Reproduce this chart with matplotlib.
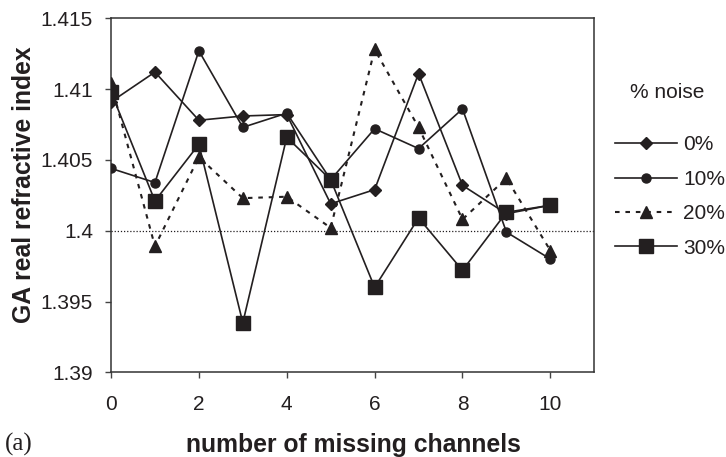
import matplotlib
matplotlib.use("Agg")
import matplotlib.pyplot as plt

plt.rcParams['font.family'] = ['Liberation Sans', 'DejaVu Sans']

missing_channels = [0, 1, 2, 3, 4, 5, 6, 7, 8, 9, 10]
noise_0 = [1.4091, 1.4112, 1.4078, 1.4081, 1.4082, 1.4019, 1.4029, 1.4111, 1.4032, 1.4012, 1.4018]
noise_10 = [1.4044, 1.4034, 1.4127, 1.4073, 1.4083, 1.4036, 1.4072, 1.4058, 1.4086, 1.3999, 1.3980]
noise_20 = [1.4104, 1.3989, 1.4052, 1.4023, 1.4024, 1.4002, 1.4128, 1.4073, 1.4008, 1.4037, 1.3986]
noise_30 = [1.4098, 1.4021, 1.4061, 1.3935, 1.4066, 1.4036, 1.3960, 1.4009, 1.3972, 1.4013, 1.4018]
series_labels = ['0%', '10%', '20%', '30%']
x_ticks = [0, 2, 4, 6, 8, 10]
y_ticks = [1.39, 1.395, 1.4, 1.405, 1.41, 1.415]
y_tick_labels = ['1.39', '1.395', '1.4', '1.405', '1.41', '1.415']
reference_value = 1.4

ink = '#231f20'

fig = plt.figure(figsize=(7.26, 4.57), dpi=100)
ax = fig.add_axes([0.1529, 0.1853, 0.8186 - 0.1529, 0.96 - 0.1853])

ax.axhline(reference_value, color=ink, lw=0.9, ls=(0, (1, 1.5)), zorder=1)

l0, = ax.plot(missing_channels, noise_0, color=ink, lw=1.2, marker='D', ms=6.5,
              mfc=ink, mec=ink, label=series_labels[0], zorder=3)
l1, = ax.plot(missing_channels, noise_10, color=ink, lw=1.2, marker='o', ms=6.5,
              mfc=ink, mec=ink, label=series_labels[1], zorder=3)
l2, = ax.plot(missing_channels, noise_20, color=ink, lw=1.5, ls=(0, (2.2, 2.8)), marker='^', ms=8,
              mfc=ink, mec=ink, label=series_labels[2], zorder=3)
l3, = ax.plot(missing_channels, noise_30, color=ink, lw=1.2, marker='s', ms=10.5,
              mfc=ink, mec=ink, label=series_labels[3], zorder=4)

ax.set_xlim(0, 11)
ax.set_ylim(1.39, 1.415)
ax.set_xticks(x_ticks)
ax.set_xticklabels([str(t) for t in x_ticks])
ax.set_yticks(y_ticks)
ax.set_yticklabels(y_tick_labels)
ax.tick_params(axis='both', labelsize=15, direction='out', length=4, width=1,
               color='#444444', labelcolor=ink)
ax.tick_params(axis='x', pad=12)
ax.tick_params(axis='y', pad=9)
for sp in ax.spines.values():
    sp.set_color('#333333')
    sp.set_linewidth(1.1)

fig.text(24 / 726, 1 - 185 / 457, 'GA real refractive index', fontsize=17.8, fontweight='bold',
         color=ink, rotation=90, ha='center', va='center')
fig.text(353 / 726, 5 / 457, 'number of missing channels', fontsize=17.8, fontweight='bold',
         color=ink, ha='center', va='baseline')
fig.text(5 / 726, 6 / 457, '(a)', fontsize=18, family=['Liberation Serif'], color=ink,
         ha='left', va='baseline')

fig.text(667 / 726, 1 - 93 / 457, '% noise', fontsize=15, color=ink, ha='center', va='center')
leg = fig.legend(handles=[l0, l1, l2, l3], labels=series_labels,
                 loc='center left', bbox_to_anchor=(0.835, 1 - 196.5 / 457), frameon=False,
                 fontsize=15, handlelength=3.0, handletextpad=0.3,
                 labelspacing=0.74, borderaxespad=0)
for t in leg.get_texts():
    t.set_color(ink)

fig.savefig('out.png', dpi=100)
